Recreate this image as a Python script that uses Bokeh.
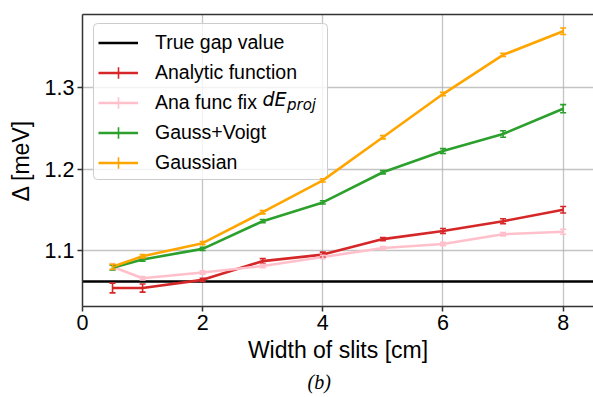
from bokeh.plotting import figure
from bokeh.models import (ColumnDataSource, Whisker, TeeHead, Legend, LegendItem,
                          LinearAxis, FixedTicker, Label, Range1d, Title, BoxAnnotation)
from bokeh.embed import file_html
from bokeh.resources import INLINE

# Slit widths [cm]
slit_width = [0.5, 1, 2, 3, 4, 5, 6, 7, 8]

# Reference gap value [meV]
true_gap = 1.062

# Fitted gap Delta [meV] and its uncertainty for each fit model
analytic = [1.054, 1.054, 1.064, 1.087, 1.095, 1.114, 1.124, 1.136, 1.150]
analytic_err = [0.006, 0.005, 0.002, 0.003, 0.003, 0.002, 0.003, 0.003, 0.004]

ana_fix = [1.080, 1.066, 1.073, 1.081, 1.092, 1.103, 1.108, 1.120, 1.123]
ana_fix_err = [0.004, 0.002, 0.002, 0.002, 0.002, 0.002, 0.002, 0.002, 0.003]

gauss_voigt = [1.079, 1.089, 1.102, 1.136, 1.159, 1.196, 1.222, 1.243, 1.274]
gauss_voigt_err = [0.003, 0.002, 0.002, 0.002, 0.002, 0.002, 0.003, 0.004, 0.005]

gaussian = [1.080, 1.093, 1.109, 1.147, 1.186, 1.239, 1.292, 1.340, 1.369]
gaussian_err = [0.003, 0.002, 0.002, 0.002, 0.002, 0.002, 0.002, 0.002, 0.004]

x_ticks = [0, 2, 4, 6, 8]
y_ticks = [1.1, 1.2, 1.3]

series = [
    ("Analytic function", analytic, analytic_err, "#d62728"),
    ("Ana func fix", ana_fix, ana_fix_err, "#ffc0cb"),
    ("Gauss+Voigt", gauss_voigt, gauss_voigt_err, "#2ca02c"),
    ("Gaussian", gaussian, gaussian_err, "#ffa500"),
]

SANS = "Liberation Sans"
SPINE = "#333333"

x_range = Range1d(0, 8.505)
p = figure(width=593, height=397, output_backend="svg", toolbar_location=None,
           x_range=x_range, y_range=Range1d(1.0313, 1.3896),
           min_border_left=82, min_border_right=0, min_border_top=14,
           min_border_bottom=91, outline_line_color=None,
           background_fill_color="white", border_fill_color="white")

# axes styling
p.xaxis.ticker = FixedTicker(ticks=x_ticks)
p.yaxis.ticker = FixedTicker(ticks=y_ticks)
p.xaxis.axis_label = "Width of slits [cm]"
p.yaxis.axis_label = "Δ [meV]"
for ax in (p.xaxis[0], p.yaxis[0]):
    ax.axis_label_text_font = SANS
    ax.axis_label_text_font_size = "23px"
    ax.axis_label_text_font_style = "normal"
    ax.axis_label_text_color = "black"
    ax.major_label_text_font = SANS
    ax.major_label_text_font_size = "21.5px"
    ax.major_label_text_color = "black"
    ax.axis_line_color = SPINE
    ax.axis_line_width = 1.5
    ax.major_tick_line_color = SPINE
    ax.major_tick_line_width = 1.5
    ax.major_tick_in = 0
    ax.major_tick_out = 5
    ax.minor_tick_line_color = None
    ax.major_label_standoff = 3
p.xaxis.axis_label_standoff = 4
p.yaxis.axis_label_standoff = 8

# top spine
top = LinearAxis(ticker=FixedTicker(ticks=[]), axis_line_color=SPINE, axis_line_width=1.5,
                 major_tick_line_color=None, minor_tick_line_color=None,
                 major_label_text_font_size="0px")
p.add_layout(top, "above")

for g in (p.xgrid[0], p.ygrid[0]):
    g.grid_line_color = "#b0b0b0"
    g.grid_line_alpha = 0.75
    g.grid_line_width = 1.3

# translucent legend frame (drawn under the data, over the grid)
p.add_layout(BoxAnnotation(left=11, right=245, top=283, bottom=127,
                           left_units="screen", right_units="screen",
                           top_units="screen", bottom_units="screen",
                           fill_color="white", fill_alpha=0.8,
                           line_color="#cccccc", line_width=1, line_alpha=1,
                           border_radius=4, level="underlay"))

# true gap reference line across the full x range
gap_line = p.line(x=[x_range.start, x_range.end], y=[true_gap, true_gap],
                  line_color="black", line_width=2.6)

items = [LegendItem(label="True gap value", renderers=[gap_line])]

for name, vals, errs, color in series:
    src = ColumnDataSource(dict(
        x=slit_width, y=vals,
        upper=[v + e for v, e in zip(vals, errs)],
        lower=[v - e for v, e in zip(vals, errs)],
    ))
    line = p.line("x", "y", source=src, line_color=color, line_width=2.6)
    p.add_layout(Whisker(base="x", upper="upper", lower="lower", source=src,
                         line_color=color, line_width=1.6, level="glyph",
                         upper_head=TeeHead(size=6, line_color=color, line_width=1.6),
                         lower_head=TeeHead(size=6, line_color=color, line_width=1.6)))
    # zero-size cross: only shows as the error-bar key in the legend
    key = p.scatter("x", "y", source=src, marker="cross", size=0,
                    line_color=color, line_width=1.6)
    items.append(LegendItem(label=name, renderers=[line, key]))

legend = Legend(items=items, location=(16, 129),
                label_text_font=SANS, label_text_font_size="19.5px",
                label_text_color="black",
                glyph_width=40, glyph_height=29, label_height=29, spacing=1,
                padding=2, label_standoff=17, label_width=165,
                border_line_color=None, background_fill_alpha=0)
p.add_layout(legend)

# math part of the "Ana func fix dE_proj" entry
p.add_layout(Label(x=180, y=207.5, x_units="screen", y_units="screen", text="dE",
                   text_font="DejaVu Sans", text_font_style="italic",
                   text_font_size="19px", text_baseline="middle", text_color="black"))
p.add_layout(Label(x=204.5, y=202, x_units="screen", y_units="screen", text="proj",
                   text_font="DejaVu Sans", text_font_style="italic",
                   text_font_size="15px", text_baseline="middle", text_color="black"))

# panel caption
p.add_layout(Title(text="(b)", text_font="Liberation Serif", text_font_style="italic",
                   text_font_size="20px", text_color="black", align="left",
                   offset=225, standoff=7), "below")

open("out.html", "w").write(file_html(p, INLINE))
